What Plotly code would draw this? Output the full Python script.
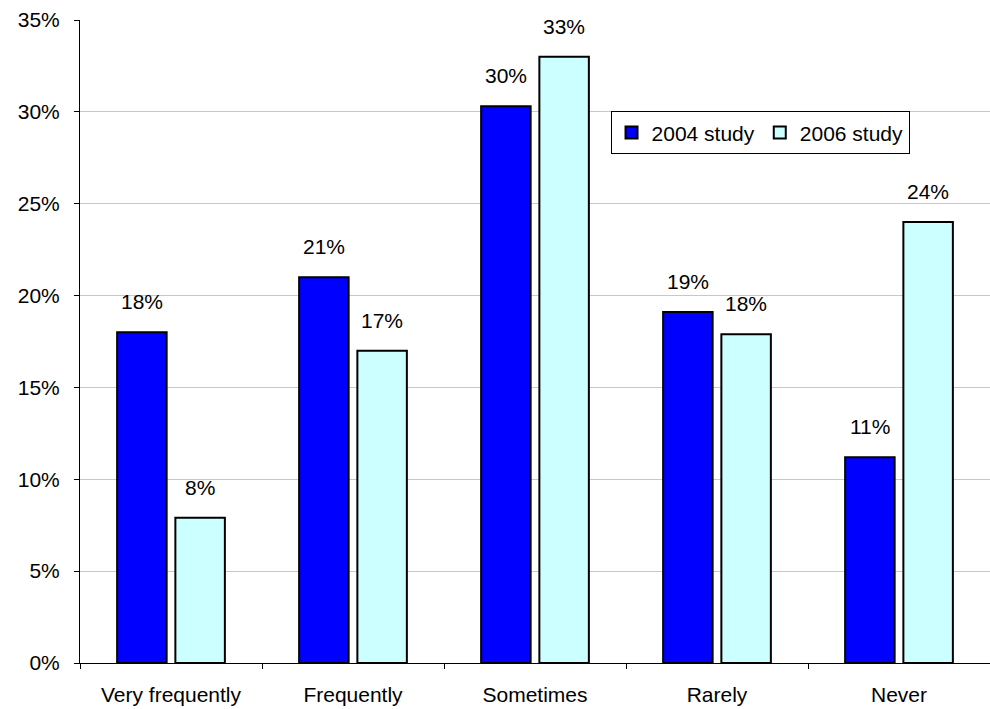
import plotly.graph_objects as go

# Survey answers and the share of respondents in each study
categories = ["Very frequently", "Frequently", "Sometimes", "Rarely", "Never"]
study_2004 = [18.0, 21.0, 30.3, 19.1, 11.2]
study_2006 = [7.9, 17.0, 33.0, 17.9, 24.0]
series_names = ["2004 study", "2006 study"]
y_ticks = [0, 5, 10, 15, 20, 25, 30, 35]
y_tick_labels = [f"{t}%" for t in y_ticks]

FONT = "Arial, Liberation Sans, sans-serif"
BAR_GAP = 0.36

fig = go.Figure()
for name, values, color in [
    (series_names[0], study_2004, "#0000FF"),
    (series_names[1], study_2006, "#CCFFFF"),
]:
    fig.add_trace(go.Bar(
        name=name,
        x=categories,
        y=values,
        marker=dict(color=color, line=dict(color="black", width=2)),
    ))

# Value labels above each bar
slot = (1 - BAR_GAP) / 2
annotations = []
for offset, values in [(-slot / 2, study_2004), (slot / 2, study_2006)]:
    for i, v in enumerate(values):
        annotations.append(dict(
            x=i + offset, y=v, xref="x", yref="y",
            text=f"{v:.0f}%", showarrow=False,
            yanchor="bottom", yshift=17,
            font=dict(family=FONT, size=21, color="black"),
        ))

fig.update_layout(
    width=990, height=709,
    margin=dict(l=80, r=0, t=20, b=46),
    paper_bgcolor="white", plot_bgcolor="white",
    barmode="group", bargap=BAR_GAP, bargroupgap=0.15,
    font=dict(family=FONT, size=21, color="black"),
    showlegend=True,
    legend=dict(
        orientation="h",
        x=0.583, y=0.858, xanchor="left", yanchor="top",
        bgcolor="white", bordercolor="black", borderwidth=1,
        font=dict(family=FONT, size=21, color="black"),
        itemwidth=30,
    ),
    annotations=annotations,
)

fig.update_xaxes(
    type="category",
    showline=True, linecolor="black", linewidth=1,
    ticks="outside", ticklen=5, tickcolor="black",
    tickson="boundaries",
    showgrid=False,
    tickfont=dict(family=FONT, size=21, color="black"),
    ticklabelstandoff=13,
)

fig.update_yaxes(
    range=[0, 35],
    tickvals=y_ticks, ticktext=y_tick_labels,
    showline=True, linecolor="black", linewidth=1,
    ticks="outside", ticklen=5, tickcolor="black",
    showgrid=True, gridcolor="#C8C8C8", gridwidth=1,
    zeroline=False,
    tickfont=dict(family=FONT, size=21, color="black"),
    ticklabelstandoff=10,
)

fig.write_html("out.html")
